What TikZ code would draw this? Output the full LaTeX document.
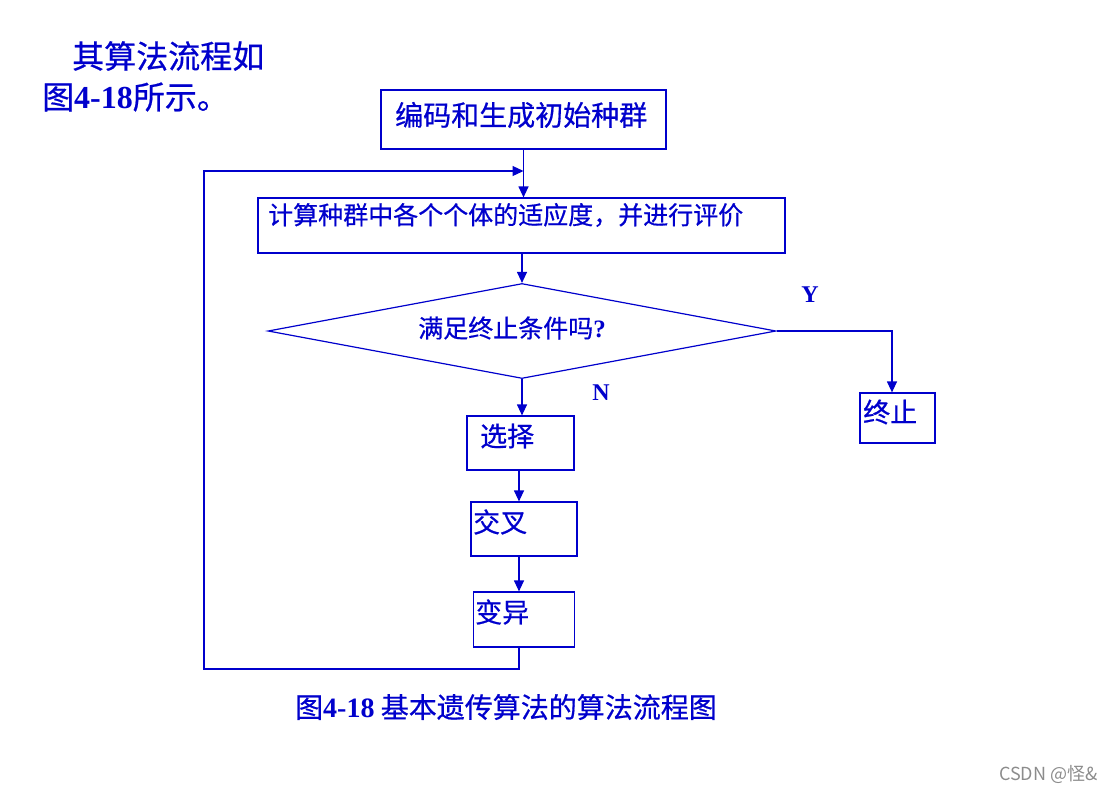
\documentclass[tikz,border=0pt]{standalone}
\usepackage{fontspec}
\setmainfont{Liberation Serif}
\newfontfamily\cjk[FakeBold=0.6]{Noto Sans CJK SC}
\newfontfamily\cjkmark{Noto Sans CJK SC}
\usetikzlibrary{arrows.meta,shapes.geometric}
\definecolor{pptblue}{RGB}{0,0,204}

\tikzstyle{box} = [rectangle,draw=pptblue,line width=1.2pt,inner sep=0pt]
\tikzstyle{cond} = [diamond,draw=pptblue,line width=1.2pt,inner sep=0pt,minimum width=508pt,minimum height=95pt]
\tikzstyle{txt} = [text=pptblue,inner sep=0pt,anchor=west]
\tikzstyle{flow} = [draw=pptblue,line width=1.2pt,-{Triangle[length=11pt,width=10pt]}]
\tikzstyle{every node}=[font=\cjk\fontsize{25}{30}\selectfont]

\begin{document}
\begin{tikzpicture}[x=1pt,y=-1pt]
	\useasboundingbox (0,0) rectangle (1118,793);
	% heading
	\node[txt,font=\cjk\fontsize{32}{38}\selectfont] (head1) at (72,56) {其算法流程如};
	\node[txt,font=\cjk\fontsize{32}{38}\selectfont] (head2) at (42,97) {图{\rmfamily\bfseries 4-18}所示。};
	% boxes
	\node[box,minimum width=285pt,minimum height=59pt] (init) at (523.5,119.5) {};
	\node[txt,font=\cjk\fontsize{28}{34}\selectfont] (initt) at (395,115) {编码和生成初始种群};
	\node[box,minimum width=527pt,minimum height=55pt] (calc) at (521.5,225.5) {};
	\node[txt] (calct) at (268,215) {计算种群中各个个体的适应度，并进行评价};
	\node[cond] (test) at (522,331) {};
	\node[text=pptblue,inner sep=0pt] (testt) at (512,328) {满足终止条件吗{\rmfamily\bfseries ?}};
	\node[box,minimum width=75pt,minimum height=50pt] (stop) at (897.5,418) {};
	\node[txt,font=\cjk\fontsize{27}{32}\selectfont] (stopt) at (863,412) {终止};
	\node[box,minimum width=107pt,minimum height=54pt] (sel) at (520.5,443) {};
	\node[txt,font=\cjk\fontsize{27}{32}\selectfont] (selt) at (480,436) {选择};
	\node[box,minimum width=106pt,minimum height=54pt] (cross) at (524,529) {};
	\node[txt,font=\cjk\fontsize{27}{32}\selectfont] (crosst) at (473,522) {交叉};
	\node[box,minimum width=101pt,minimum height=55pt] (mut) at (524,619.5) {};
	\node[txt,font=\cjk\fontsize{27}{32}\selectfont] (mutt) at (475,612) {变异};
	% branch labels
	\node[text=pptblue,font=\rmfamily\bfseries\fontsize{24}{28}\selectfont] (yes) at (810,295) {Y};
	\node[text=pptblue,font=\rmfamily\bfseries\fontsize{24}{28}\selectfont] (no) at (601,393) {N};
	% connectors
	\coordinate (ycorner) at (test.east -| 892,0);
	\coordinate (loopsw) at (204,669);
	\coordinate (loopnw) at (204,171);
	\draw[flow] (init.south) -- (init.south |- calc.north);
	\draw[flow] (calc.south -| test.north) -- (test.north);
	\draw[flow] (test.east) -- (ycorner) -- (ycorner |- stop.north);
	\draw[flow] (test.south) -- (test.south |- sel.north);
	\draw[flow] ([xshift=-1.5pt]sel.south) -- ([xshift=-1.5pt]sel.south |- cross.north);
	\draw[flow] ([xshift=-5pt]cross.south) -- ([xshift=-5pt]cross.south |- mut.north);
	\draw[flow] ([xshift=-5pt]mut.south) -- ([xshift=-5pt]mut.south |- loopsw) -- (loopsw) -- (loopnw) -- (loopnw -| init.south);
	% caption
	\node[txt,font=\cjk\fontsize{28}{34}\selectfont] (cap) at (295,707) {图{\rmfamily\bfseries 4-18} 基本遗传算法的算法流程图};
	\node[anchor=west,inner sep=0pt,text=black!45,font=\cjkmark\fontsize{18}{21}\selectfont] (mark) at (999,774) {CSDN @怪\&};
\end{tikzpicture}
\end{document}
